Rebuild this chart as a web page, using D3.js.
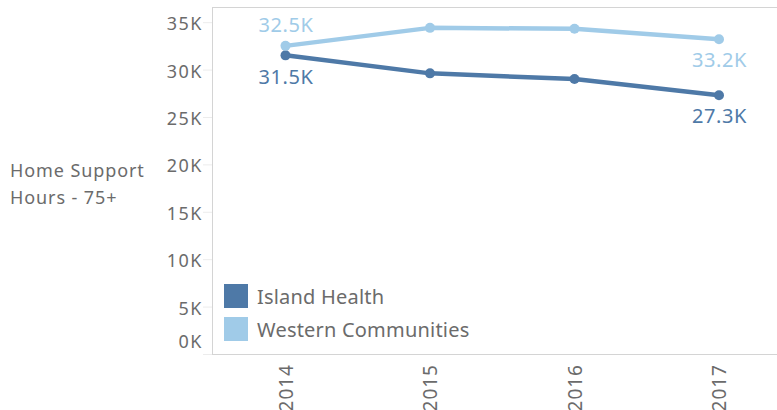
<!DOCTYPE html>
<html>
<head>
<meta charset="utf-8">
<script src="https://cdn.jsdelivr.net/npm/d3@7"></script>
<style>
  html, body { margin: 0; padding: 0; background: #fff; }
  svg { display: block; font-family: "Noto Sans", "DejaVu Sans", sans-serif; }
</style>
</head>
<body>
<svg id="chart" width="777" height="410"></svg>
<script>
// Home support hours for people aged 75+, by year
const years = ["2014", "2015", "2016", "2017"];
const islandHealth = [31500, 29600, 29000, 27300];
const westernCommunities = [32500, 34400, 34300, 33200];
const seriesNames = ["Island Health", "Western Communities"];
const seriesColors = ["#4e79a7", "#a0cbe8"];
const yTicks = [0, 5000, 10000, 15000, 20000, 25000, 30000, 35000];
const yTitle = ["Home Support", "Hours - 75+"];

const svg = d3.select("#chart");
const plot = { left: 212, right: 777, top: 7, bottom: 354 };

const x = d3.scalePoint().domain(years).range([285.5, 719]);
const y = d3.scaleLinear().domain([0, 36600]).range([plot.bottom, plot.top]);

const textGray = "#6b6b6b";
const frameGray = "#d4d4d4";

// Frame: left, top and bottom borders
svg.append("line").attr("x1", plot.left + 0.5).attr("x2", plot.left + 0.5)
  .attr("y1", plot.top).attr("y2", plot.bottom)
  .attr("stroke", frameGray).attr("stroke-width", 1);
svg.append("line").attr("x1", plot.left).attr("x2", plot.right)
  .attr("y1", plot.top + 0.5).attr("y2", plot.top + 0.5)
  .attr("stroke", frameGray).attr("stroke-width", 1);
svg.append("line").attr("x1", plot.left).attr("x2", plot.right)
  .attr("y1", plot.bottom + 0.5).attr("y2", plot.bottom + 0.5)
  .attr("stroke", frameGray).attr("stroke-width", 1);

// Y axis
const yAxis = d3.axisLeft(y)
  .tickValues(yTicks)
  .tickSize(9)
  .tickPadding(0)
  .tickFormat(d => d3.format(".0f")(d / 1000) + "K");
const yg = svg.append("g")
  .attr("transform", `translate(${plot.left},0)`)
  .call(yAxis);
yg.select(".domain").remove();
yg.selectAll(".tick line").attr("stroke", "#ececec");
yg.selectAll(".tick text")
  .attr("fill", textGray)
  .attr("font-size", 18)
  .attr("letter-spacing", 1.5)
  .attr("font-family", "'Noto Sans', sans-serif")
  .attr("dy", null)
  .attr("x", -9)
  .attr("y", d => d === 0 ? -7 : 7.5);

// X axis, labels rotated
const xAxis = d3.axisBottom(x).tickSize(0).tickPadding(0);
const xg = svg.append("g")
  .attr("transform", `translate(0,${plot.bottom})`)
  .call(xAxis);
xg.select(".domain").remove();
xg.selectAll(".tick text")
  .attr("fill", textGray)
  .attr("font-size", 19)
  .attr("letter-spacing", 1)
  .attr("font-family", "'Noto Sans', sans-serif")
  .attr("text-anchor", "end")
  .attr("transform", "rotate(-90)")
  .attr("x", -10)
  .attr("y", 0)
  .attr("dy", "0.36em");

// Y title
svg.append("text")
  .attr("fill", textGray)
  .attr("font-size", 18)
  .attr("letter-spacing", 0.9)
  .selectAll("tspan")
  .data(yTitle)
  .join("tspan")
  .attr("x", 10)
  .attr("y", (d, i) => 177 + i * 27)
  .text(d => d);

// Lines and points
const series = [
  { name: seriesNames[0], values: islandHealth, color: seriesColors[0] },
  { name: seriesNames[1], values: westernCommunities, color: seriesColors[1] }
];
const line = d3.line().x((d, i) => x(years[i])).y(d => y(d));

series.forEach(s => {
  svg.append("path")
    .datum(s.values)
    .attr("d", line)
    .attr("fill", "none")
    .attr("stroke", s.color)
    .attr("stroke-width", 4.5)
    .attr("stroke-linejoin", "round");
  svg.append("g").selectAll("circle")
    .data(s.values)
    .join("circle")
    .attr("cx", (d, i) => x(years[i]))
    .attr("cy", d => y(d))
    .attr("r", 5)
    .attr("fill", s.color);
});

// Value labels at first and last year
const fmtK = d => d3.format(".1f")(d / 1000) + "K";
const labels = [
  { s: 1, i: 0, dy: -14 },
  { s: 0, i: 0, dy: 29 },
  { s: 1, i: 3, dy: 28 },
  { s: 0, i: 3, dy: 28 }
];
svg.append("g").selectAll("text")
  .data(labels)
  .join("text")
  .attr("x", d => x(years[d.i]) + 0.5)
  .attr("y", d => y(series[d.s].values[d.i]) + d.dy)
  .attr("text-anchor", "middle")
  .attr("font-size", 20)
  .attr("letter-spacing", 0.6)
  .attr("fill", d => series[d.s].color)
  .text(d => fmtK(series[d.s].values[d.i]));

// Legend
const legend = svg.append("g").selectAll("g")
  .data(series)
  .join("g")
  .attr("transform", (d, i) => `translate(224,${284 + i * 33})`);
legend.append("rect")
  .attr("width", 24).attr("height", 24)
  .attr("fill", d => d.color);
legend.append("text")
  .attr("x", 33)
  .attr("y", 20)
  .attr("font-size", 20)
  .attr("letter-spacing", 0.2)
  .attr("fill", textGray)
  .text(d => d.name);
</script>
</body>
</html>
